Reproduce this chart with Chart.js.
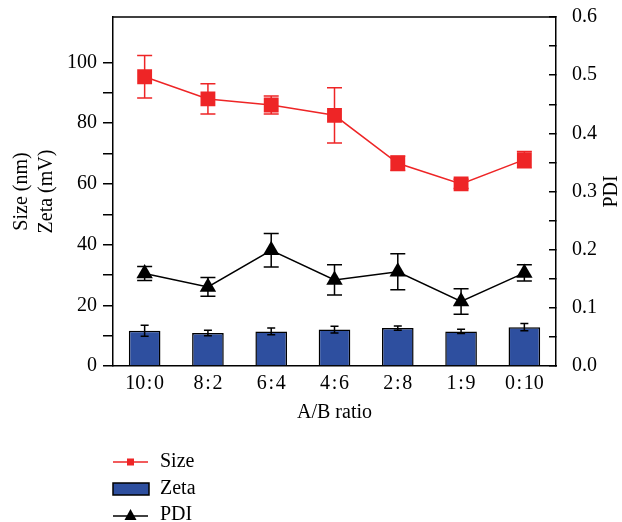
<!DOCTYPE html>
<html>
<head>
<meta charset="utf-8">
<script src="https://cdn.jsdelivr.net/npm/chart.js@4.4.1/dist/chart.umd.min.js"></script>
<style>
  html, body { margin: 0; padding: 0; background: #fff; }
  #wrap { width: 622px; height: 522px; }
</style>
</head>
<body>
<div id="wrap"><canvas id="chart"></canvas></div>
<script>
// A/B ratios on the x axis
const ratios = ['10\u200A:\u200A0', '8\u200A:\u200A2', '6\u200A:\u200A4', '4\u200A:\u200A6', '2\u200A:\u200A8', '1\u200A:\u200A9', '0\u200A:\u200A10'];

// Size (nm), left axis
const sizeNm = [95.3, 88.0, 86.0, 82.6, 66.8, 60.0, 68.0];
const sizeErr = [7.0, 5.0, 3.0, 9.1, 2.4, 1.5, 2.7];

// Zeta (mV), left axis, bars
const zetaMv = [11.6, 10.9, 11.4, 12.0, 12.5, 11.4, 12.8];
const zetaErr = [1.8, 0.9, 1.1, 1.1, 0.7, 0.7, 1.2];

// PDI, right axis
const pdi = [0.159, 0.136, 0.199, 0.148, 0.162, 0.111, 0.160];
const pdiErr = [0.012, 0.016, 0.029, 0.026, 0.031, 0.022, 0.014];

const serif = "'Liberation Serif', 'DejaVu Serif', serif";
const fontSize = 20;
const red = '#ee2526';
const blue = '#2e4f9f';

// error bars, drawn under line markers but over the bars
function drawErrors(chart, index) {
    const ds = chart.data.datasets[index];
    if (!ds.errors) return;
    const meta = chart.getDatasetMeta(index);
    const yScale = chart.scales[ds.yAxisID];
    const ctx = chart.ctx;
    ctx.save();
    ctx.strokeStyle = ds.errorColor;
    ctx.lineWidth = 1.5;
    meta.data.forEach((el, i) => {
        const x = el.x;
        const hi = yScale.getPixelForValue(ds.data[i] + ds.errors[i]);
        const lo = yScale.getPixelForValue(ds.data[i] - ds.errors[i]);
        const w = ds.capWidth / 2;
        ctx.beginPath();
        ctx.moveTo(x, hi); ctx.lineTo(x, lo);
        ctx.moveTo(x - w, hi); ctx.lineTo(x + w, hi);
        ctx.moveTo(x - w, lo); ctx.lineTo(x + w, lo);
        ctx.stroke();
    });
    ctx.restore();
}

const errorBars = {
    id: 'errorBars',
    beforeDatasetDraw(chart, args) {
        if (chart.data.datasets[args.index].type === 'line') drawErrors(chart, args.index);
    },
    afterDatasetDraw(chart, args) {
        if (chart.data.datasets[args.index].type !== 'line') drawErrors(chart, args.index);
    }
};

// top frame line, right axis title and the stacked legend
const extras = {
    id: 'extras',
    afterDraw(chart) {
        const ctx = chart.ctx;
        const area = chart.chartArea;
        ctx.save();
        ctx.strokeStyle = '#000';
        ctx.lineWidth = 1.5;
        ctx.beginPath();
        ctx.moveTo(area.left, area.top);
        ctx.lineTo(area.right, area.top);
        ctx.stroke();

        ctx.fillStyle = '#000';
        ctx.font = fontSize + 'px ' + serif;
        ctx.textAlign = 'center';
        ctx.textBaseline = 'middle';
        ctx.translate(612, (area.top + area.bottom) / 2);
        ctx.rotate(-Math.PI / 2);
        ctx.fillText('PDI', 0, 0);
        ctx.restore();

        const [zetaDs, pdiDs, sizeDs] = [0, 1, 2].map(i => chart.data.datasets[i]);
        const x0 = 113, x1 = 148, xm = (x0 + x1) / 2, tx = 160;
        ctx.save();
        ctx.font = fontSize + 'px ' + serif;
        ctx.textAlign = 'left';
        ctx.textBaseline = 'middle';

        // Size
        let y = 462;
        ctx.strokeStyle = sizeDs.borderColor;
        ctx.lineWidth = 1.5;
        ctx.beginPath(); ctx.moveTo(x0, y); ctx.lineTo(x1, y); ctx.stroke();
        ctx.fillStyle = sizeDs.pointBackgroundColor;
        ctx.fillRect(xm - 3.5, y - 3.5, 7, 7);
        ctx.fillStyle = '#000';
        ctx.fillText(sizeDs.label, tx, y);

        // Zeta
        y = 489;
        ctx.fillStyle = zetaDs.backgroundColor;
        ctx.fillRect(x0, y - 6, x1 - x0 + 1, 12);
        ctx.strokeStyle = '#000';
        ctx.strokeRect(x0, y - 6, x1 - x0 + 1, 12);
        ctx.fillStyle = '#000';
        ctx.fillText(zetaDs.label, tx, y);

        // PDI
        y = 516;
        ctx.strokeStyle = pdiDs.borderColor;
        ctx.beginPath(); ctx.moveTo(x0, y); ctx.lineTo(x1, y); ctx.stroke();
        ctx.fillStyle = '#000';
        ctx.beginPath();
        ctx.moveTo(xm, y - 7); ctx.lineTo(xm + 6, y + 4); ctx.lineTo(xm - 6, y + 4);
        ctx.closePath(); ctx.fill();
        ctx.fillText(pdiDs.label, tx, y - 1);
        ctx.restore();
    }
};

function noPad(s) {
    s.paddingTop = 0; s.paddingBottom = 0; s.paddingLeft = 0; s.paddingRight = 0;
}

new Chart(document.getElementById('chart'), {
    data: {
        labels: ratios,
        datasets: [
            {
                type: 'bar',
                label: 'Zeta',
                data: zetaMv,
                errors: zetaErr,
                errorColor: '#000',
                capWidth: 8,
                yAxisID: 'y',
                backgroundColor: blue,
                borderColor: '#000',
                borderWidth: 1.5,
                barPercentage: 0.5,
                categoryPercentage: 1,
                order: 3
            },
            {
                type: 'line',
                label: 'PDI',
                data: pdi,
                errors: pdiErr,
                errorColor: '#000',
                capWidth: 15,
                yAxisID: 'y1',
                borderColor: '#000',
                borderWidth: 1.5,
                pointStyle: 'triangle',
                pointRadius: 9.5,
                pointBackgroundColor: '#000',
                pointBorderWidth: 0,
                order: 2
            },
            {
                type: 'line',
                label: 'Size',
                data: sizeNm,
                errors: sizeErr,
                errorColor: red,
                capWidth: 15,
                yAxisID: 'y',
                borderColor: red,
                borderWidth: 1.5,
                pointStyle: 'rect',
                pointRadius: 10.5,
                pointBackgroundColor: red,
                pointBorderWidth: 0,
                order: 1
            }
        ]
    },
    options: {
        responsive: true,
        maintainAspectRatio: false,
        animation: false,
        layout: { padding: { left: 0, right: 0, top: 17, bottom: 96 } },
        plugins: {
            legend: { display: false },
            tooltip: { enabled: false }
        },
        scales: {
            x: {
                offset: true,
                afterFit: s => { s.height = 60; noPad(s); },
                grid: { display: false, drawTicks: false },
                border: { display: true, color: '#000', width: 1.5 },
                ticks: { color: '#000', font: { family: serif, size: fontSize }, padding: 6, maxRotation: 0 },
                title: {
                    display: true, text: 'A/B ratio', color: '#000',
                    font: { family: serif, size: fontSize }, padding: { top: 0, bottom: 1 }
                }
            },
            y: {
                position: 'left',
                min: 0,
                max: 115,
                afterFit: s => { s.width = 113; noPad(s); },
                afterBuildTicks: s => { s.ticks = s.ticks.filter(t => t.value <= 110); },
                grid: { drawOnChartArea: false, color: '#000', lineWidth: 1.5, tickLength: 10 },
                border: { display: true, color: '#000', width: 1.5 },
                ticks: {
                    stepSize: 10,
                    color: '#000',
                    padding: 6,
                    font: { family: serif, size: fontSize },
                    callback: v => (v % 20 === 0 ? v : '')
                },
                title: {
                    display: true, text: ['Size (nm)', 'Zeta (mV)'], color: '#000',
                    font: { family: serif, size: fontSize, lineHeight: 1.25 }, padding: { top: 9, bottom: 0 }
                }
            },
            y1: {
                position: 'right',
                min: 0,
                max: 0.6,
                afterFit: s => { s.width = 66; noPad(s); },
                grid: { drawOnChartArea: false, color: '#000', lineWidth: 1.5, tickLength: -7 },
                border: { display: true, color: '#000', width: 1.5 },
                ticks: {
                    stepSize: 0.05,
                    color: '#000',
                    padding: 23,
                    font: { family: serif, size: fontSize },
                    callback: v => (Math.round(v * 100) % 10 === 0 ? v.toFixed(1) : '')
                }
            }
        }
    },
    plugins: [errorBars, extras]
});
</script>
</body>
</html>
